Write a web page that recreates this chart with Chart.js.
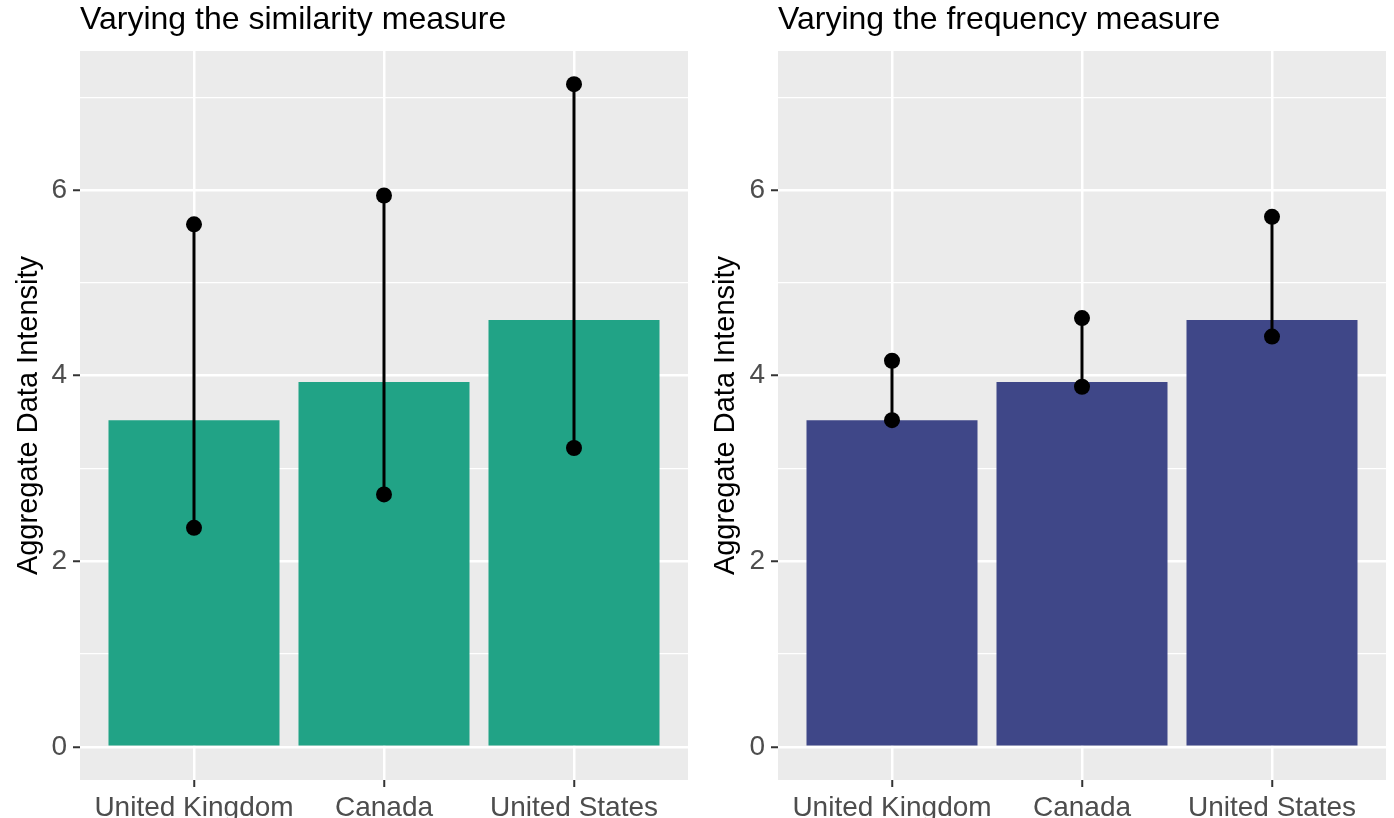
<!DOCTYPE html>
<html lang="en">
<head>
    <meta charset="UTF-8">
    <title>Aggregate Data Intensity</title>
    <script src="https://cdn.jsdelivr.net/npm/chart.js"></script>
    <style>
        body { margin: 0; background: #fff; }
        .panel { position: absolute; top: 0; width: 697px; height: 818px; }
        #left { left: 0; }
        #right { left: 697px; }
    </style>
</head>
<body>
    <div class="panel" id="left"><canvas id="c1" width="697" height="818"></canvas></div>
    <div class="panel" id="right"><canvas id="c2" width="697" height="818"></canvas></div>

    <script>
        // data
        const categories = ['United Kingdom', 'Canada', 'United States'];
        const barValues = [3.52, 3.93, 4.60];
        const simLow = [2.36, 2.72, 3.22];
        const simHigh = [5.63, 5.94, 7.14];
        const freqLow = [3.52, 3.88, 4.42];
        const freqHigh = [4.16, 4.62, 5.71];
        const yTicks = [0, 1, 2, 3, 4, 5, 6, 7];

        const FONT = "'Liberation Sans', Arial, sans-serif";

        // grey panel + title drawn like ggplot
        const panelPlugin = {
            id: 'panel',
            beforeDraw(chart, args, opts) {
                const a = chart.chartArea;
                const ctx = chart.ctx;
                ctx.save();
                ctx.fillStyle = '#EBEBEB';
                ctx.fillRect(a.left, a.top, a.right - a.left, a.bottom - a.top);
                ctx.fillStyle = '#000';
                ctx.font = '32px ' + FONT;
                ctx.textBaseline = 'alphabetic';
                ctx.fillText(opts.title, a.left, 29);
                ctx.restore();
            }
        };

        function makeChart(id, title, color, low, high, axisLeft, padRight) {
            const ctx = document.getElementById(id);
            // one small line per country: low point to high point
            const errSets = categories.map((c, i) => ({
                type: 'line',
                data: [{ x: i + 1, y: low[i] }, { x: i + 1, y: high[i] }],
                borderColor: '#000',
                borderWidth: 3,
                pointRadius: 8,
                pointBackgroundColor: '#000',
                pointBorderWidth: 0,
                order: 0
            }));
            return new Chart(ctx, {
                type: 'bar',
                data: {
                    datasets: [{
                        data: barValues.map((v, i) => ({ x: i + 1, y: v })),
                        backgroundColor: color,
                        categoryPercentage: 1,
                        barPercentage: 0.9,
                        order: 1
                    }].concat(errSets)
                },
                options: {
                    responsive: false,
                    animation: false,
                    layout: { padding: { top: 51, right: padRight, left: 0, bottom: 0 } },
                    plugins: {
                        legend: { display: false },
                        tooltip: { enabled: false },
                        panel: { title: title }
                    },
                    scales: {
                        x: {
                            type: 'linear',
                            min: 0.4,
                            max: 3.6,
                            offset: false,
                            afterBuildTicks: s => { s.ticks = [1, 2, 3].map(v => ({ value: v })); },
                            afterFit: s => { s.height = 38; },
                            border: { display: false },
                            grid: {
                                offset: false,
                                color: '#FFFFFF',
                                lineWidth: 2.5,
                                tickColor: '#333333',
                                tickLength: 7,
                                tickWidth: 2
                            },
                            ticks: {
                                autoSkip: false,
                                maxRotation: 0,
                                padding: 4,
                                color: '#4D4D4D',
                                font: { family: FONT, size: 28 },
                                callback: v => categories[v - 1]
                            }
                        },
                        y: {
                            min: -0.357,
                            max: 7.497,
                            afterBuildTicks: s => { s.ticks = yTicks.map(v => ({ value: v })); },
                            afterFit: s => { s.width = axisLeft; },
                            border: { display: false },
                            grid: {
                                color: '#FFFFFF',
                                lineWidth: c => (c.tick && c.tick.value % 2 === 0) ? 2.5 : 1.2,
                                tickColor: c => (c.tick && c.tick.value % 2 === 0) ? '#333333' : 'rgba(0,0,0,0)',
                                tickLength: 7,
                                tickWidth: 2
                            },
                            ticks: {
                                padding: 6,
                                color: '#4D4D4D',
                                font: { family: FONT, size: 28 },
                                callback: v => (v % 2 === 0 ? String(v) : '')
                            },
                            title: {
                                display: true,
                                text: 'Aggregate Data Intensity',
                                color: '#000',
                                font: { family: FONT, size: 29 },
                                padding: { top: 12, bottom: 0 }
                            }
                        }
                    }
                },
                plugins: [panelPlugin]
            });
        }

        makeChart('c1', 'Varying the similarity measure', '#21A386', simLow, simHigh, 80, 9);
        makeChart('c2', 'Varying the frequency measure', '#3F4788', freqLow, freqHigh, 81, 8);
    </script>
</body>
</html>
